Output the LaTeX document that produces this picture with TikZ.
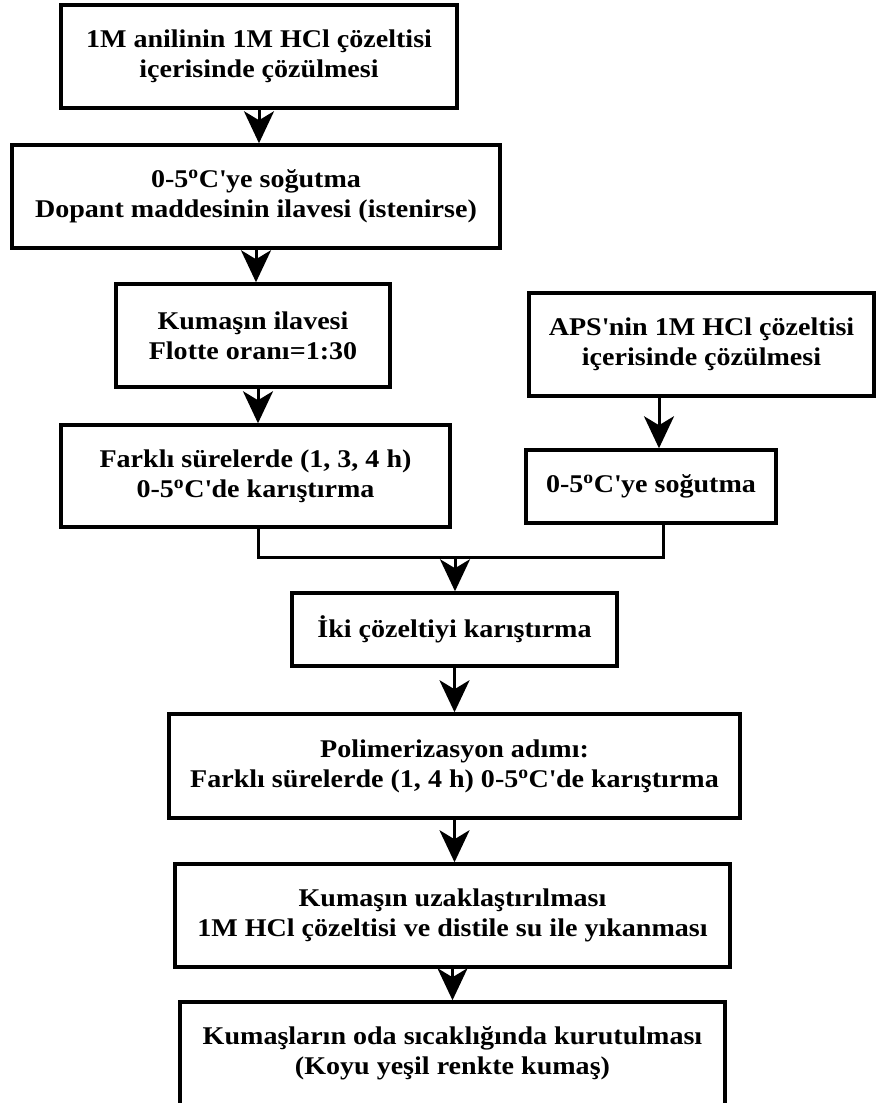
\documentclass[tikz,border=0pt]{standalone}
\usepackage{fontspec}
\setmainfont{Liberation Serif}[FakeStretch=1.1]
\usetikzlibrary{arrows.meta,calc}
\newcommand{\ap}{\textquotesingle}
\newcommand{\dg}{\textsuperscript{o}}
\begin{document}
\begin{tikzpicture}[x=1pt,y=-1pt,
  box/.style={draw, line width=3.5pt, align=center, inner sep=0pt,
    font=\fontsize{25.5}{30}\selectfont\bfseries},
  link/.style={line width=3pt},
  arr/.style={link, -{Stealth[length=32pt,width=30pt,inset=9pt]}}]
\clip (0,0) rectangle (876,1103);
\fill[white] (0,0) rectangle (876,1103);

\node[box, minimum width=396pt, minimum height=103pt] (b1) at (259,56.5)
  {1M anilinin 1M HCl çözeltisi\\içerisinde çözülmesi};
\node[box, minimum width=488pt, minimum height=103pt] (b2) at (256,196.5)
  {0-5\dg C\ap ye soğutma\\Dopant maddesinin ilavesi (istenirse)};
\node[box, minimum width=274pt, minimum height=103pt] (b3) at (253,335.5)
  {Kumaşın ilavesi\\Flotte oranı=1:30};
\node[box, minimum width=389pt, minimum height=102pt] (b4) at (255.5,476)
  {Farklı sürelerde (1, 3, 4 h)\\0-5\dg C\ap de karıştırma};
\node[box, minimum width=345pt, minimum height=103pt] (aps) at (701.5,344.5)
  {APS\ap nin 1M HCl çözeltisi\\içerisinde çözülmesi};
\node[box, minimum width=250pt, minimum height=73pt] (cool) at (651,486.5)
  {0-5\dg C\ap ye soğutma};
\node[box, minimum width=325pt, minimum height=73pt] (iki) at (454.5,629.5)
  {İki çözeltiyi karıştırma};
\node[box, minimum width=571pt, minimum height=104pt] (poli) at (454.5,766)
  {Polimerizasyon adımı:\\Farklı sürelerde (1, 4 h) 0-5\dg C\ap de karıştırma};
\node[box, minimum width=555pt, minimum height=103pt] (kuz) at (452.5,915.5)
  {Kumaşın uzaklaştırılması\\1M HCl çözeltisi ve distile su ile yıkanması};
\node[box, minimum width=545pt, minimum height=103pt] (fin) at (452.5,1053.5)
  {Kumaşların oda sıcaklığında kurutulması\\(Koyu yeşil renkte kumaş)};

\coordinate (ax) at (659,0);
\coordinate (lx) at (258,0);
\coordinate (rx) at (663,0);
\coordinate (mj) at (455,557);

\draw[arr] (b1.south) -- (b1.south |- b2.north);
\draw[arr] (b2.south -| b2.center) -- (b2.center |- b3.north);
\draw[arr] (b3.south -| lx) -- (b4.north -| lx);
\draw[arr] (aps.south -| ax) -- (cool.north -| ax);
\draw[link] (b4.south -| lx) |- (mj);
\draw[link] (cool.south -| rx) |- (mj);
\draw[arr] (mj) -- (mj |- iki.north);
\draw[arr] (iki.south) -- (iki.south |- poli.north);
\draw[arr] (poli.south) -- (poli.south |- kuz.north);
\draw[arr] (kuz.south) -- (kuz.south |- fin.north);
\end{tikzpicture}
\end{document}
